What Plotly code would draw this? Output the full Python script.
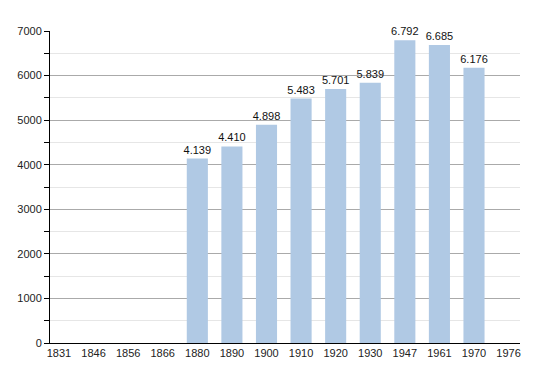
import plotly.graph_objects as go

years = ["1831", "1846", "1856", "1866", "1880", "1890", "1900", "1910", "1920", "1930", "1947", "1961", "1970", "1976"]
population = [None, None, None, None, 4139, 4410, 4898, 5483, 5701, 5839, 6792, 6685, 6176, None]
labels = ["" if v is None else f"{v:,}".replace(",", ".") for v in population]

fig = go.Figure(go.Bar(
    x=years, y=population, text=labels, textposition="outside", constraintext="none",
    textfont=dict(size=11, color="#111"), cliponaxis=False,
    marker=dict(color="#b0c9e4", line=dict(width=0)),
))
# page body has an 8px default margin, so the figure is sized to fit the window
fig.update_layout(
    width=542, height=365, margin=dict(l=42, r=30, t=23, b=30, autoexpand=False),
    plot_bgcolor="white", paper_bgcolor="white",
    font=dict(family="Liberation Sans, Arial, sans-serif", size=11, color="#222"),
    bargap=0.39, showlegend=False,
)
fig.update_xaxes(type="category", range=[-0.26, 13.33], showline=True, linecolor="black", linewidth=1,
                 automargin=False, ticks="", showgrid=False, tickfont=dict(size=11))
fig.update_yaxes(range=[0, 7000], dtick=1000, showline=True, linecolor="black", linewidth=1, automargin=False,
                 ticks="outside", ticklen=5, tickcolor="black", gridcolor="#aaaaaa", gridwidth=1,
                 zeroline=False, tickfont=dict(size=11),
                 minor=dict(dtick=500, ticks="outside", ticklen=5, tickcolor="black",
                            showgrid=True, gridcolor="#e6e6e6"))
fig.write_html("out.html")
